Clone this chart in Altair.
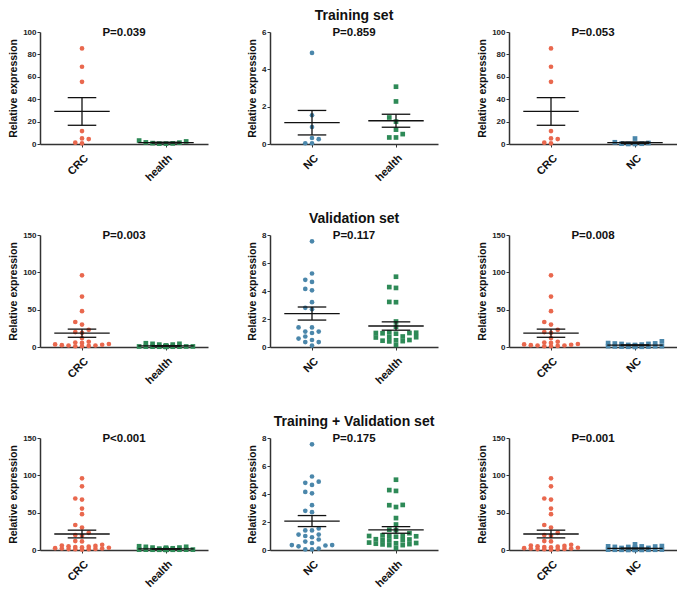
import altair as alt
import pandas as pd

# ---- data ----
crc_train = [85.3, 69.0, 55.5, 11.5, 4.4, 0.6, 1.2, 5.0]
nc_train = [4.88, 1.54, 0.91, 0.26, 0.32, 0.04, 0.04]
health_train = [3.07, 2.28, 1.42, 1.2, 0.77, 0.53, 0.35, 0.35]

crc_val = [96, 67.5, 48, 33.5, 30, 23, 19, 20, 12, 7, 6, 5.5, 4, 3.5, 3, 2.5, 2, 2, 1.5, 1, 1]
nc_val = [7.55, 5.25, 4.8, 4.65, 4.15, 4.05, 3.2, 2.8, 2.7, 1.4, 1.4, 1.1, 1.1, 1.0,
          0.75, 0.6, 0.5, 0.35, 0.35, 0.1]
health_val = [5.02, 4.28, 4.22, 3.22, 3.2, 1.82, 1.45, 1.05, 1.02, 1.0, 1.0, 0.98, 0.95,
              0.75, 0.72, 0.7, 0.68, 0.5, 0.48, 0.45, 0.42, 0.4, 0.15]

row_titles = ["Training set", "Validation set", "Training + Validation set"]
p_values = [["P=0.039", "P=0.859", "P=0.053"],
            ["P=0.003", "P=0.117", "P=0.008"],
            ["P<0.001", "P=0.175", "P=0.001"]]
ticks_big = {100: [0, 20, 40, 60, 80, 100], 150: [0, 50, 100, 150]}
ticks_small = {6: [0, 2, 4, 6], 8: [0, 2, 4, 6, 8]}

group_colors = {"CRC": "#E9684E", "NC": "#4B87AB", "health": "#2E8A57"}

W, H = 168, 112
STEP = 0.08  # horizontal spacing of swarm columns, in x units
FONT = "Liberation Sans"


def swarm(values, px_per_unit, diam=4.4, maxc=4):
    order = sorted(range(len(values)), key=lambda i: values[i])
    placed, cols = [], [0] * len(values)
    cand = [0]
    for j in range(1, maxc + 1):
        cand += [-j, j]
    for i in order:
        y = values[i] * px_per_unit
        best, bestd = None, -1.0
        for k in cand:
            ds = [abs(y - py) for c, py in placed if c == k]
            dmin = min(ds) if ds else 1e9
            if dmin >= diam:
                best = k
                break
            if dmin > bestd + 0.8:
                best, bestd = k, dmin
        placed.append((best, y))
        cols[i] = best
    return cols


def panel(g1, v1, g2, v2, shape2, ymax, yticks, ptxt, rtitle):
    ppu = H / ymax
    rows = []
    for gi, (g, vals, shp) in enumerate([(g1, v1, "circle"), (g2, v2, shape2)]):
        cols = swarm(vals, ppu)
        for v, c in zip(vals, cols):
            rows.append({"grp": g, "gi": gi, "v": v, "x": gi + 0.5 + c * STEP, "mk": shp})
    df = pd.DataFrame(rows)

    xscale = alt.Scale(domain=[0, 2], nice=False, zero=False)
    yscale = alt.Scale(domain=[0, ymax], nice=False)
    xaxis = alt.Axis(values=[0.5, 1.5], labelExpr=f"datum.value < 1 ? '{g1}' : '{g2}'",
                     title=None, labelAngle=-45, labelFontSize=11, labelFontWeight="bold",
                     labelColor="#111", labelFont=FONT, tickSize=3, tickColor="#333",
                     domainColor="#333", domainWidth=1.5, labelPadding=5, grid=False)
    yaxis = alt.Axis(values=yticks, title="Relative expression", titleFontSize=10.5,
                     titleFontWeight="bold", titleFont=FONT, titleColor="#111",
                     labelFontSize=8, labelFontWeight="bold", labelFont=FONT, labelColor="#222",
                     tickSize=3, tickColor="#333", domainColor="#333", domainWidth=1.5,
                     labelPadding=1, titlePadding=4, grid=False)

    def X(f):
        return alt.X(f, scale=xscale, axis=xaxis)

    def Y(f):
        return alt.Y(f, scale=yscale, axis=yaxis)

    base = alt.Chart(df)
    pts = base.mark_point(filled=True, opacity=1, size=22, strokeWidth=0).encode(
        x=X("x:Q"), y=Y("v:Q"),
        color=alt.Color("grp:N", scale=alt.Scale(domain=list(group_colors.keys()),
                                                 range=list(group_colors.values())), legend=None),
        shape=alt.Shape("mk:N", scale=None),
    )
    stats = base.transform_aggregate(
        m="mean(v)", se="stderr(v)", groupby=["gi"]
    ).transform_calculate(
        lo="datum.m - datum.se", hi="datum.m + datum.se",
        xc="datum.gi + 0.5", xa="datum.gi + 0.5 - 0.33", xb="datum.gi + 0.5 + 0.33",
        ca="datum.gi + 0.5 - 0.17", cb="datum.gi + 0.5 + 0.17",
    )
    rule = dict(color="#111", strokeWidth=1.3)
    mean_l = stats.mark_rule(**rule).encode(x=X("xa:Q"), x2="xb:Q", y=Y("m:Q"))
    hi_l = stats.mark_rule(**rule).encode(x=X("ca:Q"), x2="cb:Q", y=Y("hi:Q"))
    lo_l = stats.mark_rule(**rule).encode(x=X("ca:Q"), x2="cb:Q", y=Y("lo:Q"))
    vert = stats.mark_rule(**rule).encode(x=X("xc:Q"), y=Y("lo:Q"), y2="hi:Q")

    title = alt.TitleParams(text=rtitle if rtitle else " ", subtitle=ptxt, fontSize=14,
                            fontWeight="bold", font=FONT, color="#111",
                            subtitleFontSize=11.5, subtitleFontWeight="bold", subtitleFont=FONT,
                            subtitleColor="#111", subtitlePadding=4, offset=-10, anchor="middle")
    return alt.layer(pts, mean_l, hi_l, lo_l, vert).properties(width=W, height=H, title=title)


sets = [(crc_train, nc_train, health_train),
        (crc_val, nc_val, health_val),
        (crc_train + crc_val, nc_train + nc_val, health_train + health_val)]
big = [100, 150, 150]
small = [6, 8, 8]

rows = []
for r, (crc, nc, hl) in enumerate(sets):
    p1 = panel("CRC", crc, "health", hl, "square", big[r], ticks_big[big[r]], p_values[r][0], None)
    p2 = panel("NC", nc, "health", hl, "square", small[r], ticks_small[small[r]], p_values[r][1], row_titles[r])
    p3 = panel("CRC", crc, "NC", nc, "square", big[r], ticks_big[big[r]], p_values[r][2], None)
    rows.append(alt.hconcat(p1, p2, p3, spacing=39))

chart = alt.vconcat(*rows, spacing=28).properties(
    padding={"left": 0, "top": 0, "right": 0, "bottom": 0}
).configure_view(stroke=None)

chart.save("out.html", embed_options={"renderer": "svg", "actions": False})
